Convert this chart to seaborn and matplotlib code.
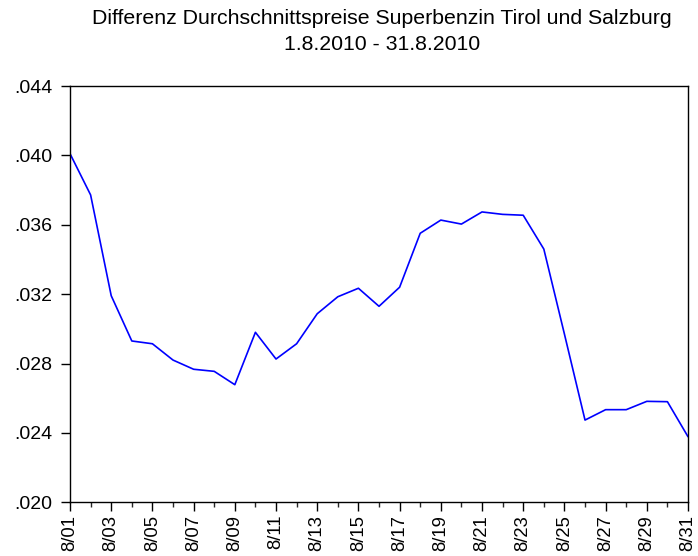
import numpy as np
import pandas as pd
import seaborn as sns
import matplotlib.pyplot as plt
from matplotlib.ticker import FuncFormatter, MultipleLocator

days = list(range(1, 32))
price_diff = [0.0401, 0.03772, 0.03191, 0.0293, 0.02914, 0.0282, 0.02767, 0.02755,
              0.02678, 0.0298, 0.02826, 0.02914, 0.03087, 0.03185, 0.03234, 0.0313,
              0.0324, 0.03551, 0.03627, 0.03604, 0.03674, 0.0366, 0.03655, 0.0346,
              0.0297, 0.02474, 0.02534, 0.02534, 0.02582, 0.0258, 0.02378]
tick_labels = [f"8/{d:02d}" for d in days[::2]]
title_lines = ["Differenz Durchschnittspreise Superbenzin Tirol und Salzburg",
               "1.8.2010 - 31.8.2010"]

df = pd.DataFrame({"day": days, "diff": price_diff})

sns.set_style("ticks")
plt.rcParams['font.family'] = ['Liberation Sans', 'DejaVu Sans']

fig = plt.figure(figsize=(6.98, 5.56), dpi=100)
ax = fig.add_axes([0.1003, 0.0966, 0.8854, 0.7487])
sns.lineplot(data=df, x="day", y="diff", ax=ax, color="#0000ff", linewidth=1.2)

ax.set_xlim(1, 31)
ax.set_ylim(0.020, 0.044)
ax.yaxis.set_major_locator(MultipleLocator(0.004))
ax.yaxis.set_major_formatter(FuncFormatter(lambda v, p: f"{v:.3f}".lstrip("0")))
ax.set_xticks(days[::2])
ax.set_xticklabels(tick_labels, rotation=90)
ax.set_xticks(days[1::2], minor=True)
ax.tick_params(axis="y", which="major", direction="out", length=6.5, width=1,
               labelsize=14, colors="black", pad=6)
ax.tick_params(axis="x", which="major", direction="out", length=6.5, width=1,
               labelsize=13.3, colors="black", pad=2.5)
ax.tick_params(axis="x", which="minor", direction="out", length=3.6, width=1)
ax.set_xlabel("")
ax.set_ylabel("")
for s in ax.spines.values():
    s.set_visible(True)
    s.set_color("black")
    s.set_linewidth(1)

# two title lines, centred over the plot area
fig.text(0.547, 0.9568, title_lines[0], ha="center", va="baseline",
         fontsize=15.3, color="black")
fig.text(0.547, 0.9101, title_lines[1], ha="center", va="baseline",
         fontsize=15.3, color="black")

fig.savefig("out.png", dpi=100)
